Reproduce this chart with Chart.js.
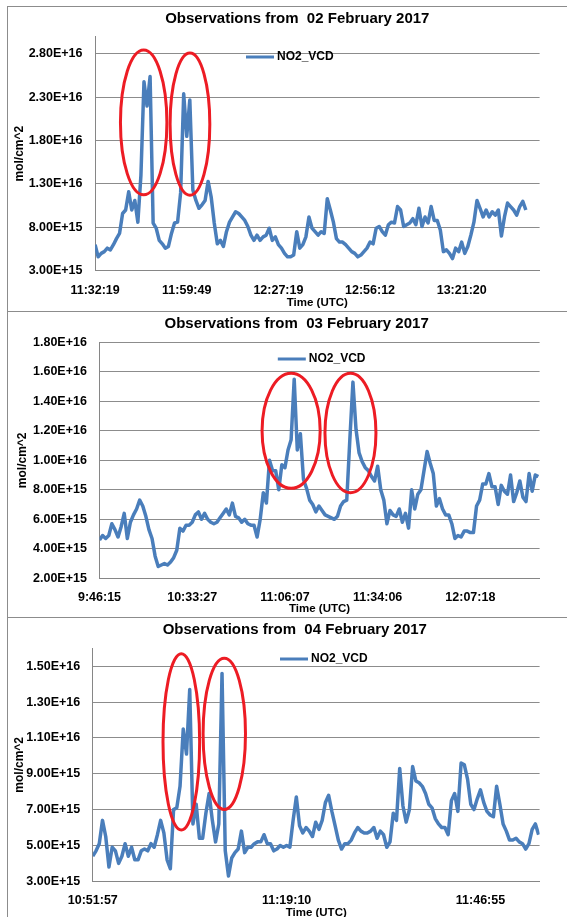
<!DOCTYPE html>
<html>
<head>
<meta charset="utf-8">
<script src="https://cdn.jsdelivr.net/npm/chart.js@4.4.1/dist/chart.umd.min.js"></script>
<style>
  html, body { margin: 0; padding: 0; background: #fff; }
  body { width: 567px; height: 917px; overflow: hidden; position: relative; }
  .frame { position: absolute; background: #8c8c8c; }
  canvas { position: absolute; left: 0; }
</style>
</head>
<body>
<div class="frame" style="left:7px;top:6px;width:1px;height:911px"></div>
<div class="frame" style="left:7px;top:6px;width:560px;height:1px"></div>
<div class="frame" style="left:7px;top:311px;width:560px;height:1px"></div>
<div class="frame" style="left:7px;top:617px;width:560px;height:1px"></div>
<canvas id="c1" width="567" height="310" style="top:0px"></canvas>
<canvas id="c2" width="567" height="310" style="top:311px"></canvas>
<canvas id="c3" width="567" height="310" style="top:617px"></canvas>
<script>
// NO2 vertical column density, in units of 1E+15 mol/cm^2 (one value per sample)
const no2Feb02 = [
  6.0, 4.6, 5.0, 5.2, 5.6, 5.4, 6.0, 6.7, 7.3, 9.6,
  10.0, 12.1, 10.0, 11.1, 8.6, 14.0, 24.8, 22.0, 25.4, 8.5,
  7.9, 6.5, 6.1, 5.6, 5.8, 7.3, 8.5, 8.6, 12.0, 23.4,
  18.5, 22.7, 12.3, 11.1, 10.2, 10.6, 11.1, 13.3, 11.5, 8.5,
  6.1, 6.5, 5.8, 7.5, 8.6, 9.2, 9.8, 9.6, 9.2, 8.8,
  8.1, 7.1, 6.5, 7.1, 6.5, 6.9, 7.1, 7.9, 6.5, 6.9,
  6.0, 5.6, 5.0, 4.6, 4.6, 4.8, 7.5, 5.6, 6.0, 6.9,
  9.2, 7.9, 7.5, 7.1, 7.5, 7.3, 11.3, 10.0, 8.6, 6.7,
  6.3, 6.3, 6.0, 5.6, 5.2, 5.0, 4.6, 4.8, 5.2, 5.6,
  6.3, 6.1, 7.9, 8.1, 7.5, 7.1, 8.3, 8.6, 8.5, 10.4,
  10.0, 8.1, 8.3, 8.5, 9.0, 8.3, 10.2, 8.1, 9.2, 8.5,
  10.4, 8.8, 8.8, 7.7, 5.2, 5.4, 5.0, 4.4, 5.6, 5.2,
  6.3, 5.0, 5.8, 7.1, 8.6, 11.1, 10.2, 9.2, 10.0, 9.2,
  9.8, 9.4, 10.0, 7.0, 9.2, 10.8, 10.4, 10.0, 9.4, 10.4,
  11.0, 10.0
];
const no2Feb03 = [
  4.6, 4.9, 4.7, 4.9, 5.7, 5.3, 4.8, 5.5, 6.4, 4.7,
  5.8, 6.3, 6.7, 7.3, 6.9, 6.2, 5.3, 4.7, 3.5, 2.8,
  2.9, 3.0, 2.9, 3.1, 3.4, 3.9, 5.4, 5.2, 5.6, 5.6,
  5.8, 6.3, 6.5, 6.0, 6.4, 6.0, 5.8, 5.7, 5.8, 6.1,
  6.4, 6.7, 6.3, 7.1, 6.2, 6.1, 5.8, 6.0, 5.7, 5.6,
  5.6, 4.8, 6.0, 7.8, 7.1, 10.0, 9.3, 9.3, 8.0, 9.7,
  9.5, 10.7, 11.4, 15.5, 10.7, 11.8, 8.7, 8.1, 7.3, 7.0,
  6.5, 6.9, 6.6, 6.3, 6.2, 6.1, 6.0, 6.2, 6.9, 7.2,
  7.3, 11.4, 15.3, 12.1, 10.5, 9.9, 9.5, 9.3, 8.9, 8.6,
  9.6, 8.0, 7.3, 5.7, 6.6, 6.3, 6.2, 6.7, 5.8, 6.4,
  5.4, 8.0, 6.7, 7.7, 8.0, 9.3, 10.6, 9.8, 9.1, 6.9,
  7.4, 6.7, 6.3, 6.3, 5.7, 4.7, 4.9, 4.8, 5.2, 5.2,
  5.1, 5.1, 6.9, 7.3, 8.4, 8.4, 9.1, 8.2, 8.2, 7.0,
  8.3, 7.9, 7.7, 9.0, 7.2, 7.8, 8.6, 7.5, 7.2, 9.1,
  7.9, 9.0, 8.9
];
const no2Feb04 = [
  4.4, 4.7, 5.1, 6.4, 5.5, 3.8, 4.9, 4.7, 4.0, 4.4,
  5.1, 4.4, 4.9, 4.2, 4.2, 4.7, 4.8, 4.7, 5.1, 4.9,
  5.6, 6.4, 5.7, 4.2, 3.7, 7.0, 7.1, 8.3, 11.5, 10.1,
  13.7, 6.2, 7.3, 5.4, 5.4, 6.8, 7.9, 6.4, 5.2, 6.2,
  14.6, 4.7, 3.3, 4.3, 4.6, 4.8, 5.8, 4.6, 4.9, 4.9,
  5.1, 5.2, 5.2, 5.6, 5.1, 5.1, 4.7, 4.8, 5.0, 4.9,
  5.0, 4.9, 6.4, 7.7, 6.1, 5.7, 6.0, 5.8, 5.5, 6.3,
  5.9, 6.4, 7.4, 7.8, 6.9, 6.1, 5.3, 4.8, 5.1, 5.1,
  5.3, 5.7, 6.0, 5.8, 5.7, 5.7, 5.8, 6.0, 5.4, 5.8,
  5.6, 4.9, 5.2, 6.8, 6.4, 9.3, 7.2, 6.3, 7.0, 9.4,
  8.6, 8.5, 8.3, 7.9, 7.3, 7.1, 6.5, 6.2, 6.0, 6.0,
  5.6, 7.5, 7.9, 6.9, 9.6, 9.5, 8.7, 7.3, 7.0, 7.6,
  8.1, 7.4, 6.9, 6.7, 6.6, 8.3, 7.3, 6.2, 5.8, 5.3,
  5.3, 5.4, 5.2, 5.1, 4.8, 5.1, 5.9, 6.2, 5.6
];

// time labels on the x axis and the sample index each one sits on
const timeFeb02 = ["11:32:19", "11:59:49", "12:27:19", "12:56:12", "13:21:20"];
const timeIdxFeb02 = [0, 30, 60, 90, 120];
const timeFeb03 = ["9:46:15", "10:33:27", "11:06:07", "11:34:06", "12:07:18"];
const timeIdxFeb03 = [0, 30, 60, 90, 120];
const timeFeb04 = ["10:51:57", "11:19:10", "11:46:55"];
const timeIdxFeb04 = [0, 60, 120];

// y tick values (1E+15 units)
const yTicksFeb02 = [3, 8, 13, 18, 23, 28];
const yTicksFeb03 = [2, 4, 6, 8, 10, 12, 14, 16, 18];
const yTicksFeb04 = [3, 5, 7, 9, 11, 13, 15];

// red rings round the peaks: [centre index, centre value, half width (samples), half height (value)]
const ringsFeb02 = [[15.9, 20.1, 7.6, 8.35], [31.05, 19.9, 6.5, 8.2]];
const ringsFeb03 = [[62.0, 12.0, 9.4, 3.9], [81.2, 11.85, 8.25, 4.05]];
const ringsFeb04 = [[27.4, 10.78, 5.67, 4.92], [40.7, 11.23, 6.56, 4.22]];

const FONT = '"Liberation Sans", Arial, sans-serif';
const H = 310;

// title, legend and red rings, drawn on top of the line
const decor = {
  id: "decor",
  afterDatasetsDraw(chart, args, o) {
    const ctx = chart.ctx;
    const xs = chart.scales.x, ys = chart.scales.y;
    ctx.save();
    ctx.strokeStyle = "#ed1c24";
    ctx.lineWidth = 3;
    o.rings.forEach((r) => {
      const cx = xs.getPixelForValue(r[0]);
      const cy = ys.getPixelForValue(r[1]);
      const rx = xs.getPixelForValue(r[0] + r[2]) - cx;
      const ry = cy - ys.getPixelForValue(r[1] + r[3]);
      ctx.beginPath();
      ctx.ellipse(cx, cy, rx, ry, 0, 0, Math.PI * 2);
      ctx.stroke();
    });

    ctx.fillStyle = "#000";
    ctx.textBaseline = "middle";
    ctx.font = "bold 15px " + FONT;
    ctx.textAlign = "center";
    ctx.fillText(o.title, o.titleX, o.titleY);

    const ds = chart.data.datasets[0];
    ctx.strokeStyle = ds.borderColor;
    ctx.lineWidth = 3;
    ctx.beginPath();
    ctx.moveTo(o.legendX, o.legendY);
    ctx.lineTo(o.legendX + 28, o.legendY);
    ctx.stroke();
    ctx.font = "bold 12px " + FONT;
    ctx.textAlign = "left";
    ctx.fillText(ds.label, o.legendX + 31, o.legendY);
    ctx.restore();
  },
};

function makeChart(id, p) {
  return new Chart(document.getElementById(id), {
    type: "line",
    data: {
      datasets: [
        {
          label: "NO2_VCD",
          data: p.values.map((v, i) => ({ x: i, y: v })),
          borderColor: "#4a7ebb",
          borderWidth: 3.5,
          borderJoinStyle: "round",
          pointRadius: 0,
          tension: 0,
        },
      ],
    },
    options: {
      responsive: false,
      animation: false,
      devicePixelRatio: 1,
      layout: { padding: { left: 0, right: 27.4, top: p.top, bottom: 0 } },
      plugins: {
        legend: { display: false },
        title: { display: false },
        tooltip: { enabled: false },
        decor: {
          rings: p.rings,
          title: p.title,
          titleX: p.titleX,
          titleY: p.titleY,
          legendX: p.legendX,
          legendY: p.legendY,
        },
      },
      scales: {
        x: {
          type: "linear",
          min: 0,
          max: p.xMax,
          afterBuildTicks: (s) => {
            s.ticks = p.timeIdx.map((v) => ({ value: v }));
          },
          afterFit: (s) => {
            s.height = H - p.bottom;
          },
          ticks: {
            callback: (v, i) => p.times[i],
            autoSkip: false,
            maxRotation: 0,
            padding: 4,
            color: "#000",
            font: { family: FONT, size: 12.5, weight: "bold" },
          },
          grid: { display: false },
          border: { color: "#868686" },
          title: {
            display: true,
            text: "Time (UTC)",
            color: "#000",
            font: { family: FONT, size: 11.5, weight: "bold" },
            padding: { top: 0, bottom: p.xTitlePad },
          },
        },
        y: {
          min: p.yMin,
          max: p.yMax,
          afterBuildTicks: (s) => {
            s.ticks = p.yTicks.map((v) => ({ value: v }));
          },
          afterFit: (s) => {
            s.width = p.left;
          },
          ticks: {
            callback: (v) => (v * 1e15).toExponential(2).toUpperCase(),
            padding: 12.6,
            color: "#000",
            font: { family: FONT, size: 12.5, weight: "bold" },
          },
          grid: { color: "#8c8c8c", drawTicks: false },
          border: { color: "#868686" },
          title: {
            display: true,
            text: "mol/cm^2",
            color: "#000",
            font: { family: FONT, size: 12, weight: "bold" },
            padding: { top: p.yTitlePad, bottom: 0 },
          },
        },
      },
    },
    plugins: [decor],
  });
}

makeChart("c1", {
  values: no2Feb02, times: timeFeb02, timeIdx: timeIdxFeb02, yTicks: yTicksFeb02, rings: ringsFeb02,
  yMin: 3, yMax: 30, xMax: 145.5,
  left: 95.1, top: 36.6, bottom: 270.7, xTitlePad: 0, yTitlePad: 12.8,
  title: "Observations from  02 February 2017", titleX: 297.3, titleY: 19,
  legendX: 246, legendY: 57,
});
makeChart("c2", {
  values: no2Feb03, times: timeFeb03, timeIdx: timeIdxFeb03, yTicks: yTicksFeb03, rings: ringsFeb03,
  yMin: 2, yMax: 18, xMax: 142.4,
  left: 99.5, top: 31.3, bottom: 267.3, xTitlePad: 5, yTitlePad: 15.2,
  title: "Observations from  03 February 2017", titleX: 296.6, titleY: 13,
  legendX: 277.8, legendY: 48,
});
makeChart("c3", {
  values: no2Feb04, times: timeFeb04, timeIdx: timeIdxFeb04, yTicks: yTicksFeb04, rings: ringsFeb04,
  yMin: 3, yMax: 16, xMax: 138.3,
  left: 92.8, top: 31.3, bottom: 264.3, xTitlePad: 7, yTitlePad: 12.8,
  title: "Observations from  04 February 2017", titleX: 294.8, titleY: 13,
  legendX: 280, legendY: 42,
});
</script>
</body>
</html>
